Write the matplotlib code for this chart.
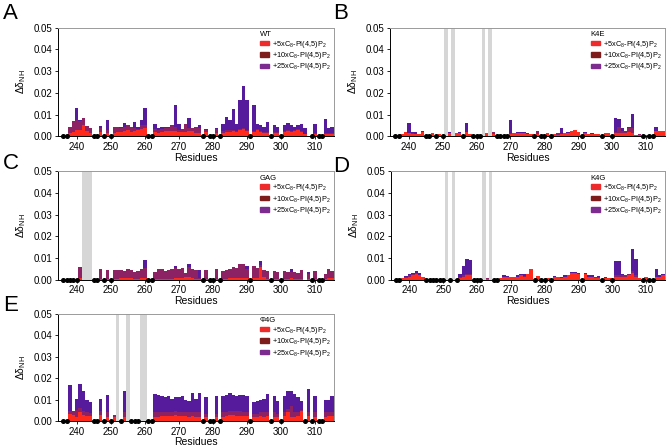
import numpy as np
import matplotlib
matplotlib.use("Agg")
import matplotlib.pyplot as plt
from matplotlib.patches import Patch

plt.rcParams['font.family'] = ['Liberation Sans', 'DejaVu Sans']
plt.rcParams['mathtext.fontset'] = 'custom'
plt.rcParams['mathtext.rm'] = 'Liberation Sans'
plt.rcParams['mathtext.it'] = 'Liberation Sans:italic'

N = None  # unassigned residue (black dot on the axis)

residues = list(range(236, 316))

# chemical shift perturbations, units of 1e-3 ppm, residues 236..315
wt_5 = [N, N, 1.5, 2.0, 3.0, 3.0, 5.0, 2.5, 1.5, N,
        N, 2.0, N, 1.5, N, 1.5, 1.8, 2.0, 2.5, 3.0,
        2.0, 2.5, 3.0, 3.5, 4.0, N, N, 2.0, 1.5, 2.0,
        2.5, 2.5, 2.5, 2.5, 2.0, 2.0, 2.0, 2.5, 2.5, 1.5,
        1.5, N, 2.0, N, N, 1.5, N, 1.5, 1.8, 2.0,
        2.5, 2.0, 3.0, 3.5, 2.5, N, 2.0, 3.0, 2.0, 1.5,
        1.5, N, 1.5, 1.5, N, 2.0, 2.5, 2.0, 2.5, 3.0,
        2.0, 1.0, 0.0, N, 1.0, N, N, 1.0, 1.0, 1.0]
wt_10 = [N, N, 4.5, 7.0, 7.5, 7.0, 8.5, 4.7, 4.0, N,
         N, 4.0, N, 3.0, N, 4.2, 4.2, 4.0, 4.5, 5.2,
         4.5, 4.0, 3.5, 5.0, 5.0, N, N, 3.5, 3.0, 3.5,
         4.0, 4.0, 5.0, 4.5, 3.0, 3.5, 5.5, 4.0, 4.0, 4.5,
         4.0, N, 3.0, N, N, 3.5, N, 2.5, 3.0, 3.0,
         3.0, 2.5, 3.5, 4.0, 3.0, N, 2.5, 3.5, 2.5, 2.0,
         2.0, N, 2.0, 2.0, N, 2.5, 3.0, 2.5, 3.0, 3.5,
         2.5, 1.0, 0.0, N, 1.5, N, N, 1.5, 1.5, 1.5]
wt_25 = [N, N, 4.0, 6.0, 13.0, 7.5, 7.5, 4.0, 3.5, N,
         N, 4.7, N, 7.7, N, 4.0, 4.0, 4.2, 6.2, 5.0,
         4.5, 6.7, 4.2, 7.7, 13.0, N, N, 5.8, 3.8, 4.2,
         4.5, 4.5, 4.5, 14.3, 5.5, 3.5, 4.5, 8.5, 4.0, 4.5,
         5.0, N, 3.5, N, N, 4.0, N, 5.8, 9.0, 7.5,
         12.5, 5.5, 16.5, 23.0, 16.5, N, 14.5, 5.5, 5.0, 4.5,
         6.8, N, 5.2, 4.5, N, 5.2, 6.0, 5.0, 4.5, 5.0,
         5.8, 4.0, 0.0, N, 5.5, N, N, 8.0, 4.0, 4.5]

k4e_5 = [N, N, 1.0, 1.8, 1.5, 1.2, 1.0, 1.2, 2.0, N,
         N, 1.5, N, 1.2, N, N, 1.5, N, 1.5, 1.5,
         N, 1.8, 1.2, N, N, N, N, 1.5, N, 1.0,
         N, N, N, N, 1.2, 1.5, 1.5, 1.5, 1.5, 1.2,
         1.0, N, 1.0, N, N, 1.5, N, 1.0, 0.8, 1.0,
         1.5, 1.5, 2.5, 3.0, 2.0, N, 1.5, 1.2, 1.2, 1.2,
         1.0, N, 1.5, 1.5, N, 1.5, 1.5, 1.5, 1.5, 2.0,
         1.5, 0.5, 0.8, N, 0.8, N, N, 2.5, 2.5, 2.5]
k4e_10 = [N, N, 0.8, 1.5, 1.5, 1.5, 1.2, 1.2, 2.0, N,
          N, 1.0, N, 0.8, N, N, 1.2, N, 1.2, 1.2,
          N, 1.5, 1.0, N, N, N, N, 1.2, N, 1.8,
          N, N, N, N, 1.5, 1.2, 1.5, 1.5, 1.5, 1.2,
          0.8, N, 2.5, N, N, 1.0, N, 1.0, 1.5, 0.8,
          1.2, 1.5, 1.5, 2.0, 1.2, N, 1.5, 1.0, 1.2, 1.0,
          0.8, N, 1.2, 1.2, N, 2.0, 4.5, 2.5, 2.5, 4.0,
          4.0, 0.5, 1.0, N, 0.8, N, N, 2.0, 2.0, 2.0]
k4e_25 = [N, N, 0.8, 1.5, 6.0, 2.2, 1.8, 1.2, 2.6, N,
          N, 1.0, N, 0.8, N, N, 1.8, N, 1.5, 1.8,
          N, 6.2, 1.0, N, N, N, N, 1.2, N, 2.2,
          N, N, N, N, 7.5, 1.2, 1.8, 1.8, 1.8, 1.5,
          1.0, N, 2.5, N, N, 1.0, N, 1.2, 1.0, 4.0,
          1.2, 1.8, 1.5, 2.0, 1.5, N, 2.2, 1.2, 1.5, 1.2,
          1.0, N, 1.5, 1.5, N, 8.5, 8.0, 3.8, 2.0, 4.2,
          10.2, 0.5, 1.2, N, 0.8, N, N, 4.5, 2.0, 2.5]

gag_5 = [N, N, N, N, N, 1.0, N, N, N, N,
         N, 0.5, N, 0.5, N, 0.5, 0.5, 0.8, 1.0, 0.8,
         0.8, 0.5, 0.5, 0.8, 0.8, N, N, 0.5, 0.5, 0.5,
         0.5, 0.5, 0.5, 0.8, 0.8, 1.0, 1.5, 1.5, 0.8, 0.5,
         0.3, N, 0.5, N, N, 0.5, N, 0.5, 0.5, 0.8,
         0.8, 0.8, 1.0, 1.0, 0.8, N, 1.0, 1.0, 6.0, 1.5,
         0.5, N, 0.5, 0.5, N, 0.5, 0.5, 0.8, 0.5, 0.5,
         0.5, 0.0, 0.3, N, 0.5, N, N, 0.5, 0.8, 0.8]
gag_10 = [N, N, N, N, N, 6.0, N, N, N, N,
          N, 5.0, N, 4.5, N, 4.5, 4.5, 4.5, 4.2, 4.8,
          4.5, 3.8, 4.0, 5.0, 5.5, N, N, 3.8, 4.8, 5.2,
          4.2, 4.5, 5.0, 5.5, 5.0, 5.5, 3.0, 6.0, 5.0, 4.5,
          1.0, N, 4.5, N, N, 5.0, N, 4.0, 4.5, 5.0,
          6.0, 5.5, 7.2, 7.2, 5.0, N, 6.5, 5.5, 7.0, 4.5,
          4.0, N, 4.0, 3.8, N, 4.0, 3.5, 3.5, 3.5, 3.0,
          4.5, 0.0, 2.5, N, 4.0, N, N, 2.5, 4.8, 4.0]
gag_25 = [N, N, N, N, N, 5.5, N, N, N, N,
          N, 4.5, N, 4.0, N, 4.0, 4.0, 4.2, 4.0, 4.5,
          4.2, 3.5, 3.8, 4.8, 9.0, N, N, 3.5, 4.5, 5.0,
          4.0, 4.2, 4.8, 6.5, 4.8, 5.2, 2.8, 7.5, 4.8, 4.0,
          4.5, N, 4.0, N, N, 4.5, N, 3.8, 4.2, 4.5,
          5.5, 5.0, 6.8, 6.8, 6.2, N, 6.0, 5.0, 8.5, 4.0,
          3.8, N, 3.8, 3.5, N, 3.8, 3.2, 4.8, 3.2, 2.8,
          4.2, 0.0, 3.8, N, 3.8, N, N, 2.3, 4.5, 3.8]

k4g_5 = [N, N, 0.8, 1.0, 1.5, 2.0, 2.5, 2.0, 1.5, N,
         N, N, N, N, N, N, N, N, N, 1.0,
         1.5, 2.0, 2.0, N, N, N, N, 0.5, N, N,
         N, 1.0, 1.5, 1.5, 1.5, 1.5, 1.5, 2.0, 1.5, 2.5,
         5.2, N, 1.8, N, N, 1.0, N, 1.5, 1.2, 1.0,
         1.5, 2.0, 3.0, 3.0, 2.5, N, 2.5, 1.5, 1.5, 1.0,
         1.0, N, 1.0, 0.8, N, 1.5, 1.5, 1.5, 1.5, 2.0,
         3.0, 1.5, 1.0, N, 1.5, N, N, 1.5, 1.5, 2.0]
k4g_10 = [N, N, 0.8, 1.2, 2.0, 2.5, 3.0, 2.0, 1.2, N,
          N, N, N, N, N, N, N, N, N, 1.5,
          2.0, 2.5, 2.5, N, N, N, N, 0.8, N, N,
          N, 0.8, 1.5, 1.5, 1.2, 1.2, 1.5, 2.0, 1.8, 1.8,
          2.0, N, 1.2, N, N, 0.8, N, 1.2, 1.2, 1.0,
          1.5, 1.5, 3.0, 3.0, 2.5, N, 2.5, 1.5, 1.5, 1.2,
          1.2, N, 1.0, 0.8, N, 2.0, 2.0, 2.0, 2.0, 2.5,
          4.0, 2.0, 0.8, N, 0.8, N, N, 1.5, 1.5, 1.5]
k4g_25 = [N, N, 1.0, 1.8, 2.5, 3.2, 4.2, 3.0, 1.5, N,
          N, N, N, N, N, N, N, N, N, 2.5,
          6.2, 9.5, 9.0, N, N, N, N, 1.0, N, N,
          N, 1.0, 2.0, 1.8, 1.5, 1.5, 2.2, 2.5, 2.5, 2.0,
          3.0, N, 1.5, N, N, 1.0, N, 1.8, 1.5, 1.2,
          2.0, 2.0, 3.8, 3.5, 3.0, N, 3.0, 2.0, 2.0, 1.5,
          1.8, N, 1.5, 1.0, N, 8.8, 8.7, 2.5, 2.0, 2.5,
          14.0, 9.8, 1.0, N, 1.0, N, N, 5.0, 2.0, 2.5]

f4g_5 = [N, N, 3.5, 3.0, 2.0, 4.0, 3.0, 2.5, 2.5, N,
         N, 3.0, N, 2.0, N, 2.0, N, N, 2.0, N,
         N, N, N, N, N, N, N, 2.0, 2.0, 2.5,
         2.5, 2.5, 2.5, 3.0, 2.5, 2.5, 2.5, 2.0, 2.5, 2.0,
         2.0, N, 2.0, N, N, 2.0, N, 2.0, 2.5, 3.0,
         3.0, 2.5, 2.5, 2.5, 2.5, N, 2.0, 2.0, 2.5, 2.0,
         2.5, N, 2.0, 2.0, N, 2.5, 4.0, 2.0, 2.0, 2.5,
         4.8, N, 2.5, N, 2.0, N, N, 2.0, 2.5, 2.5]
f4g_10 = [N, N, 4.5, 4.5, 5.0, 6.0, 4.5, 4.0, 3.8, N,
          N, 4.5, N, 4.0, N, 3.0, N, N, 4.0, N,
          N, N, N, N, N, N, N, 4.0, 4.0, 4.0,
          4.0, 4.0, 4.0, 4.5, 4.0, 4.0, 4.0, 4.0, 4.0, 4.0,
          4.0, N, 3.5, N, N, 3.5, N, 4.0, 4.0, 4.5,
          4.5, 4.5, 4.5, 4.0, 4.0, N, 3.5, 3.5, 4.0, 4.0,
          4.0, N, 4.0, 3.5, N, 4.0, 5.5, 7.0, 4.0, 4.0,
          5.0, N, 4.0, N, 4.0, N, N, 4.0, 4.0, 4.0]
f4g_25 = [N, N, 16.8, 4.5, 10.5, 17.2, 14.0, 10.0, 8.8, N,
          N, 10.5, N, 12.0, N, 3.0, N, N, 14.0, N,
          N, N, N, N, N, N, N, 12.5, 12.0, 11.5,
          11.0, 11.8, 10.5, 11.0, 11.0, 11.5, 10.0, 9.5, 13.0, 10.5,
          13.0, N, 11.0, N, N, 11.5, N, 11.5, 12.0, 13.0,
          12.2, 11.5, 12.0, 12.0, 11.5, N, 9.0, 9.5, 10.0, 10.5,
          12.5, N, 11.5, 9.5, N, 11.8, 14.2, 13.8, 12.5, 11.0,
          9.5, N, 15.0, N, 11.5, N, N, 10.0, 10.0, 11.5]

# mutated residues (grey bars)
k4e_mut = [251, 253, 262, 264]
gag_mut = [242, 243, 244]
k4g_mut = [251, 253, 262, 264]
f4g_mut = [252, 255, 259, 260]

series_labels = ['+5xC$_8$-PI(4,5)P$_2$', '+10xC$_8$-PI(4,5)P$_2$', '+25xC$_8$-PI(4,5)P$_2$']
x_ticks = [240, 250, 260, 270, 280, 290, 300, 310]

bar_red = '#ff2a1c'
bar_dark = '#8c2163'
bar_purple = '#561b9c'
legend_colors = ['#ee2a2a', '#7e1c1c', '#7c2c8e']


def to_arr(vals):
    return np.array([np.nan if v is None else v for v in vals], dtype=float) * 1e-3


def draw_panel(ax, name, s5, s10, s25, mutated):
    x = np.array(residues)
    a5, a10, a25 = to_arr(s5), to_arr(s10), to_arr(s25)

    for r in mutated:
        ax.axvspan(r - 0.5, r + 0.5, color='#d6d6d6', lw=0, zorder=0)

    ax.bar(x, np.nan_to_num(a25), width=1.0, color=bar_purple, lw=0, zorder=2)
    ax.bar(x, np.nan_to_num(a10), width=1.0, color=bar_dark, lw=0, zorder=3)
    ax.bar(x, np.nan_to_num(a5), width=1.0, color=bar_red, lw=0, zorder=4)

    missing = [r for r, v in zip(residues, s25) if v is None and r not in mutated]
    ax.plot(missing, np.zeros(len(missing)), 'o', color='black', ms=2.6,
            clip_on=False, zorder=6)

    ax.set_xlim(234.5, 315.6)
    ax.set_ylim(0, 0.05)
    ax.set_xticks(x_ticks)
    ax.set_yticks([0, 0.01, 0.02, 0.03, 0.04, 0.05])
    ax.yaxis.set_major_formatter(plt.FormatStrFormatter('%.2f'))
    ax.tick_params(labelsize=7, length=2.5, width=0.6, pad=1.5)
    ax.set_xlabel('Residues', fontsize=7.5, labelpad=0.5)
    ax.set_ylabel('Δδ$_{\\rm NH}$', fontsize=7.5, labelpad=4)
    for s in ['top', 'right']:
        ax.spines[s].set_color('#9a9a9a')
    for s in ax.spines.values():
        s.set_linewidth(0.7)

    handles = [Patch(color=c) for c in legend_colors]
    leg = ax.legend(handles, series_labels, title=name, loc='upper right',
                    frameon=False, fontsize=5.3, title_fontsize=5.5,
                    handlelength=1.3, handleheight=0.55, handletextpad=0.3,
                    labelspacing=0.05, borderaxespad=0.2, borderpad=0.3)
    leg._legend_box.align = 'left'


fig = plt.figure(figsize=(6.67, 4.47), dpi=100)

ax_a = fig.add_axes([0.087, 0.695, 0.414, 0.243])
ax_b = fig.add_axes([0.585, 0.695, 0.412, 0.243])
ax_c = fig.add_axes([0.087, 0.374, 0.414, 0.243])
ax_d = fig.add_axes([0.586, 0.374, 0.411, 0.243])
ax_e = fig.add_axes([0.087, 0.058, 0.414, 0.240])

draw_panel(ax_a, 'WT', wt_5, wt_10, wt_25, [])
draw_panel(ax_b, 'K4E', k4e_5, k4e_10, k4e_25, k4e_mut)
draw_panel(ax_c, 'GAG', gag_5, gag_10, gag_25, gag_mut)
draw_panel(ax_d, 'K4G', k4g_5, k4g_10, k4g_25, k4g_mut)
draw_panel(ax_e, 'Φ4G', f4g_5, f4g_10, f4g_25, f4g_mut)

for letter, (px, py) in zip('ABCDE', [(3, 19), (333, 19), (3, 169), (333, 172), (3, 311)]):
    fig.text(px / 667, 1 - py / 447, letter, fontsize=16, ha='left', va='baseline')

fig.savefig('out.png', dpi=100)
